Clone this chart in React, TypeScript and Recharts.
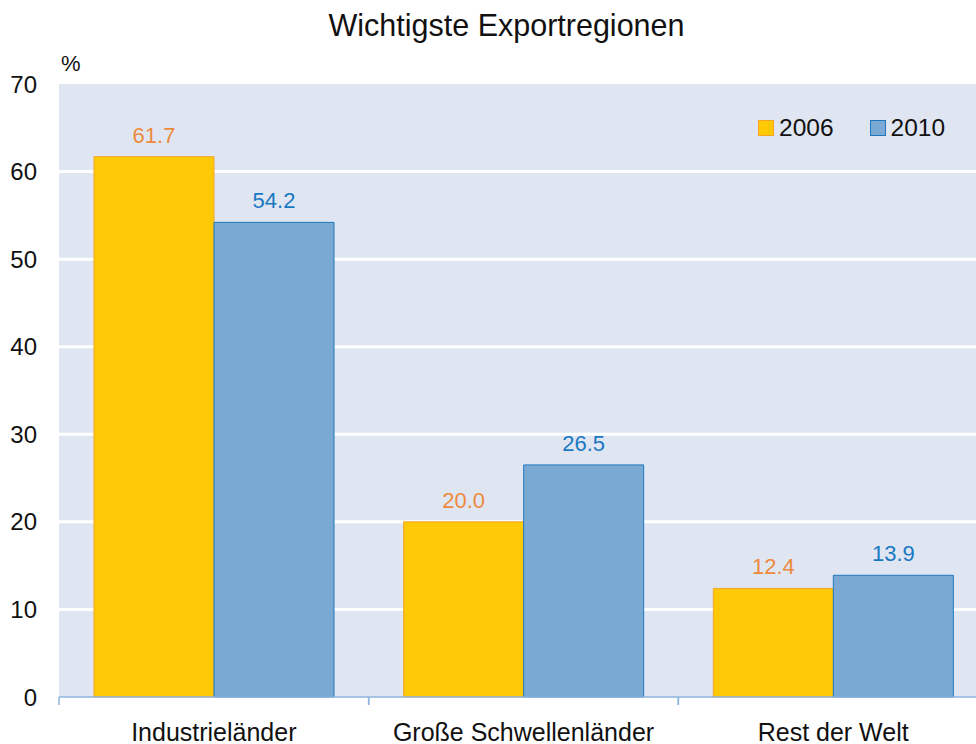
import React from 'react';
import { BarChart, Bar, XAxis, YAxis, CartesianGrid, LabelList, Legend } from 'recharts';

const categories = ['Industrieländer', 'Große Schwellenländer', 'Rest der Welt'];
const values2006 = [61.7, 20.0, 12.4];
const values2010 = [54.2, 26.5, 13.9];
const yTicks = [0, 10, 20, 30, 40, 50, 60, 70];
const gridValues = [10, 20, 30, 40, 50, 60];
const seriesNames = ['2006', '2010'];

const data = categories.map((c, i) => ({
  name: c,
  y2006: values2006[i],
  y2010: values2010[i],
}));

const FONT = '"Liberation Sans", Arial, sans-serif';
const X_TICK_MARGIN = 26;

const XTick = (props: any) => {
  const { x, y, payload } = props;
  const axisY = y - X_TICK_MARGIN;
  const off = payload.offset || 0;
  return (
    <g>
      <line x1={x - off} y1={axisY} x2={x - off} y2={axisY + 8} stroke="#8FB4DE" strokeWidth={1.5} />
      <line x1={x + off} y1={axisY} x2={x + off} y2={axisY + 8} stroke="#8FB4DE" strokeWidth={1.5} />
      <text x={x} y={y} dy="0.71em" textAnchor="middle" fontSize={25} fill="#111" fontFamily={FONT}>
        {payload.value}
      </text>
    </g>
  );
};

const LegendContent = (props: any) => {
  const { payload } = props;
  return (
    <div style={{ display: 'flex', alignItems: 'center', fontFamily: FONT, fontSize: 24.5, color: '#111' }}>
      {payload.map((p: any, i: number) => (
        <div key={i} style={{ display: 'flex', alignItems: 'center', marginRight: i === 0 ? 36 : 0 }}>
          <div
            style={{
              width: 14,
              height: 14,
              background: p.payload.fill,
              border: `1px solid ${p.payload.stroke}`,
              marginRight: 5,
            }}
          />
          <span style={{ lineHeight: '24px' }}>{p.value}</span>
        </div>
      ))}
    </div>
  );
};

export default function App() {
  return (
    <div style={{ position: 'absolute', left: 0, top: 0, width: 976, height: 744, overflow: 'hidden', background: '#fff' }}>
      <div
        style={{
          position: 'absolute',
          left: 0,
          top: 10,
          width: 1013,
          textAlign: 'center',
          fontFamily: FONT,
          fontSize: 30.5,
          lineHeight: '30px',
          color: '#111',
        }}
      >
        Wichtigste Exportregionen
      </div>
      <div
        style={{
          position: 'absolute',
          left: 61,
          top: 53,
          fontFamily: FONT,
          fontSize: 22,
          lineHeight: '22px',
          color: '#111',
        }}
      >
        %
      </div>
      <BarChart
        width={1000}
        height={744}
        data={data}
        margin={{ top: 84, right: 12, left: 0, bottom: 0 }}
        barCategoryGap={35}
        barGap={0}
      >
        <CartesianGrid
          vertical={false}
          horizontalValues={gridValues}
          stroke="#FFFFFF"
          strokeWidth={3}
          fill="#DFE6F2"
          fillOpacity={1}
        />
        <XAxis
          dataKey="name"
          height={47}
          tickSize={0}
          tickMargin={X_TICK_MARGIN}
          tickLine={false}
          axisLine={{ stroke: '#8FB4DE', strokeWidth: 1.5 }}
          tick={<XTick />}
          interval={0}
        />
        <YAxis
          width={59}
          domain={[0, 70]}
          ticks={yTicks}
          interval={0}
          axisLine={false}
          tickLine={false}
          tickSize={0}
          tickMargin={22}
          tick={{ fontSize: 24, fill: '#111', fontFamily: FONT }}
        />
        <Legend
          layout="horizontal"
          verticalAlign="middle"
          align="center"
          content={<LegendContent />}
          wrapperStyle={{ position: 'absolute', left: 758, top: 116, width: 'auto' }}
        />
        <Bar dataKey="y2006" name={seriesNames[0]} fill="#FFCA05" stroke="#F5A42A" strokeWidth={1} isAnimationActive={false}>
          <LabelList
            dataKey="y2006"
            position="top"
            offset={14}
            fill="#EE8A3E"
            fontSize={22}
            fontFamily={FONT}
            formatter={(v: any) => Number(v).toFixed(1)}
          />
        </Bar>
        <Bar dataKey="y2010" name={seriesNames[1]} fill="#7AAAD4" stroke="#1F77C0" strokeWidth={1} isAnimationActive={false}>
          <LabelList
            dataKey="y2010"
            position="top"
            offset={14}
            fill="#1A78C2"
            fontSize={22}
            fontFamily={FONT}
            formatter={(v: any) => Number(v).toFixed(1)}
          />
        </Bar>
      </BarChart>
    </div>
  );
}
